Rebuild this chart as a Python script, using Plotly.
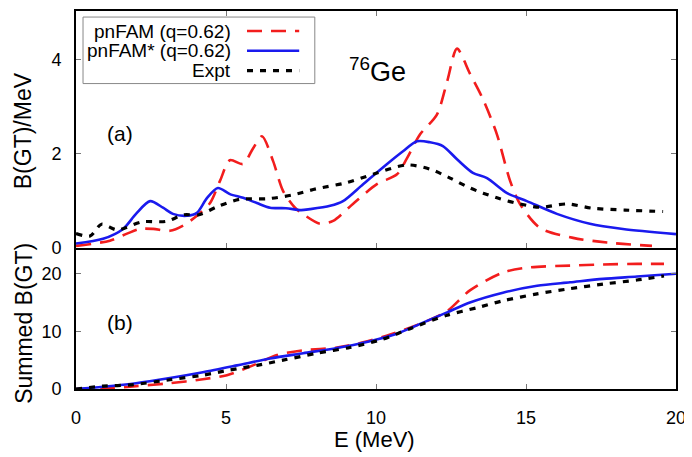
import plotly.graph_objects as go

# ---------------- data ----------------
# Panel (a): B(GT)/MeV
E_fam_a = [0, 1.13, 1.7, 2.13, 2.57, 3.13, 3.57, 4.03, 4.47, 4.8, 5.13, 5.57, 5.9, 6.2,
           6.57, 6.9, 7.3, 7.6, 8.13, 8.57, 9.23, 10.03, 10.7, 11.03, 11.47, 12.03, 12.37,
           12.7, 13.13, 13.57, 14.03, 14.47, 14.8, 15.47, 16.57, 17.7, 19.2]
B_fam_a = [0.04, 0.15, 0.3, 0.4, 0.4, 0.36, 0.47, 0.68, 0.95, 1.42, 1.86, 1.78, 2.11, 2.37,
           1.84, 1.21, 0.85, 0.7, 0.51, 0.57, 0.93, 1.35, 1.56, 1.9, 2.41, 2.83, 3.53,
           4.23, 3.7, 3.15, 2.41, 1.42, 0.93, 0.42, 0.21, 0.11, 0.04]

E_star_a = [0, 0.9, 1.57, 2.0, 2.47, 2.9, 3.23, 3.7, 4.03, 4.37, 4.73, 5.13, 5.57, 6.03,
            6.47, 7.0, 7.5, 7.8, 8.47, 8.9, 9.57, 10.37, 10.9, 11.37, 11.8, 12.23, 12.7,
            13.23, 13.7, 14.37, 15.03, 16.03, 17.13, 18.23, 20]
B_star_a = [0.09, 0.19, 0.4, 0.72, 0.99, 0.85, 0.72, 0.68, 0.74, 1.06, 1.27, 1.14, 1.06, 0.95,
            0.85, 0.84, 0.8, 0.82, 0.89, 0.99, 1.35, 1.78, 2.05, 2.26, 2.24, 2.16, 1.88,
            1.59, 1.48, 1.16, 0.99, 0.72, 0.51, 0.40, 0.29]

E_exp_a = [0, 0.47, 0.85, 1.37, 2.2, 3.0, 3.6, 4.1, 4.7, 5.47, 6.37, 7.2, 8.0, 9.0, 9.9,
           11.03, 11.8, 12.47, 13.13, 13.57, 14.13, 14.8, 15.47, 16.37, 17.2, 18.3, 19.57]
B_exp_a = [0.3, 0.25, 0.5, 0.38, 0.55, 0.56, 0.7, 0.7, 0.87, 1.03, 1.04, 1.12, 1.25, 1.38, 1.56,
           1.76, 1.67, 1.48, 1.27, 1.16, 1.04, 0.93, 0.86, 0.93, 0.84, 0.8, 0.77]

# Panel (b): summed B(GT)
E_fam_b = [0, 1.13, 2.0, 3.13, 4.23, 5.03, 5.9, 6.7, 7.57, 8.7, 9.57, 10.5, 11.47, 12.37,
           13.13, 14.23, 15.13, 16.47, 17.57, 18.7, 19.6]
S_fam_b = [0, 0.1, 0.5, 1.0, 1.7, 2.4, 4.1, 5.9, 6.7, 7.2, 8.1, 9.5, 11.3, 13.5,
           17.1, 20.2, 21.1, 21.4, 21.6, 21.7, 21.7]

E_star_b = [0, 0.9, 2.0, 3.13, 4.23, 5.37, 6.47, 7.57, 8.7, 9.8, 10.7, 11.47, 12.37, 13.13,
            14.23, 15.37, 16.47, 17.57, 18.7, 20]
S_star_b = [0, 0.4, 1.0, 1.9, 2.9, 4.1, 5.3, 6.2, 7.1, 8.3, 9.6, 11.3, 13.3, 15.0,
            16.7, 17.9, 18.5, 19.1, 19.5, 20.0]

E_exp_b = [0, 0.9, 1.8, 3.13, 4.23, 5.13, 6.03, 6.9, 8.03, 9.13, 10.2, 11.2, 12.37, 13.37,
           14.23, 15.37, 16.47, 17.57, 18.7, 19.6]
S_exp_b = [0, 0.5, 0.7, 1.6, 2.4, 3.3, 4.1, 5.0, 6.2, 7.2, 8.6, 10.6, 12.8, 14.1,
           15.3, 16.5, 17.4, 18.2, 18.9, 19.6]

series_names = ["pnFAM (q=0.62)", "pnFAM* (q=0.62)", "Expt"]
x_ticks = [0, 5, 10, 15, 20]
ya_ticks = [0, 2, 4]
yb_ticks = [0, 10, 20]

# ---------------- styles ----------------
RED = "#f21d1d"
BLUE = "#1a1aee"
BLACK = "#000000"
styles = [
    dict(color=RED, width=2.6, dash="15px,9px"),
    dict(color=BLUE, width=2.6, dash="solid"),
    dict(color=BLACK, width=3.2, dash="6px,7px"),
]
FONT = "Liberation Sans, Arial, sans-serif"

fig = go.Figure()
top = [(E_fam_a, B_fam_a), (E_star_a, B_star_a), (E_exp_a, B_exp_a)]
bot = [(E_fam_b, S_fam_b), (E_star_b, S_star_b), (E_exp_b, S_exp_b)]
for (xs, ys), st, nm in zip(top, styles, series_names):
    fig.add_trace(go.Scatter(x=xs, y=ys, mode="lines", line=dict(shape="spline", smoothing=0.8, **st),
                             name=nm, xaxis="x", yaxis="y", showlegend=False))
for (xs, ys), st, nm in zip(bot, styles, series_names):
    fig.add_trace(go.Scatter(x=xs, y=ys, mode="lines", line=dict(shape="spline", smoothing=0.8, **st),
                             name=nm, xaxis="x2", yaxis="y2", showlegend=False))

# The page body has an 8px margin, so the figure is sized 8px smaller
split = 0.3737
axis_common = dict(showline=True, linecolor="black", linewidth=1.6,
                   ticks="inside", ticklen=5, tickcolor="#777", tickwidth=1,
                   showgrid=False, zeroline=False,
                   tickfont=dict(family=FONT, size=18, color="black"))

fig.update_layout(
    width=684, height=449,
    margin=dict(l=68, r=16, t=1, b=68),
    paper_bgcolor="white", plot_bgcolor="white",
    xaxis=dict(domain=[0, 1], anchor="y", range=[0, 20], tickvals=x_ticks, mirror="ticks",
               showticklabels=False, **axis_common),
    xaxis2=dict(domain=[0, 1], anchor="y2", range=[0, 20], tickvals=x_ticks, mirror=False,
                ticklabelstandoff=12, matches="x", **axis_common),
    yaxis=dict(domain=[split, 1], anchor="x", range=[0, 5.03], tickvals=ya_ticks, mirror="ticks",
               ticklabelstandoff=9, **axis_common),
    yaxis2=dict(domain=[0, split], anchor="x2", range=[0, 24.5], tickvals=yb_ticks, mirror="ticks",
                ticklabelstandoff=9, **axis_common),
)

ann = [
    dict(text="B(GT)/MeV", x=-0.087, y=0.684, textangle=-90, font=dict(size=23)),
    dict(text="Summed B(GT)", x=-0.087, y=0.1745, textangle=-90, font=dict(size=23)),
    dict(text="E (MeV)", x=0.498, y=-0.134, font=dict(size=22)),
    dict(text="(a)", x=0.073, y=0.676, font=dict(size=21)),
    dict(text="(b)", x=0.073, y=0.176, font=dict(size=21)),
    dict(text="<sup>76</sup>Ge", x=0.502, y=0.845, font=dict(size=27)),
]
for a in ann:
    f = dict(family=FONT, color="black")
    f.update(a.pop("font"))
    fig.add_annotation(xref="paper", yref="paper", showarrow=False, font=f,
                       xanchor="center", yanchor="middle", **a)

# custom legend (text on the left, line sample on the right, as in the reference)
fig.add_shape(type="rect", xref="paper", yref="paper", x0=0.0117, x1=0.398, y0=0.808, y1=0.984,
              line=dict(color="#888", width=1), fillcolor="white", layer="above")
rows_y = [0.947, 0.895, 0.842]
for nm, st, ry in zip(series_names, styles, rows_y):
    fig.add_annotation(xref="paper", yref="paper", x=0.2617, y=ry, text=nm, showarrow=False,
                       xanchor="right", yanchor="middle",
                       font=dict(family=FONT, size=19, color="black"))
    fig.add_shape(type="line", xref="paper", yref="paper", x0=0.285, x1=0.372, y0=ry, y1=ry,
                  line=st, layer="above")

fig.write_html("out.html")
